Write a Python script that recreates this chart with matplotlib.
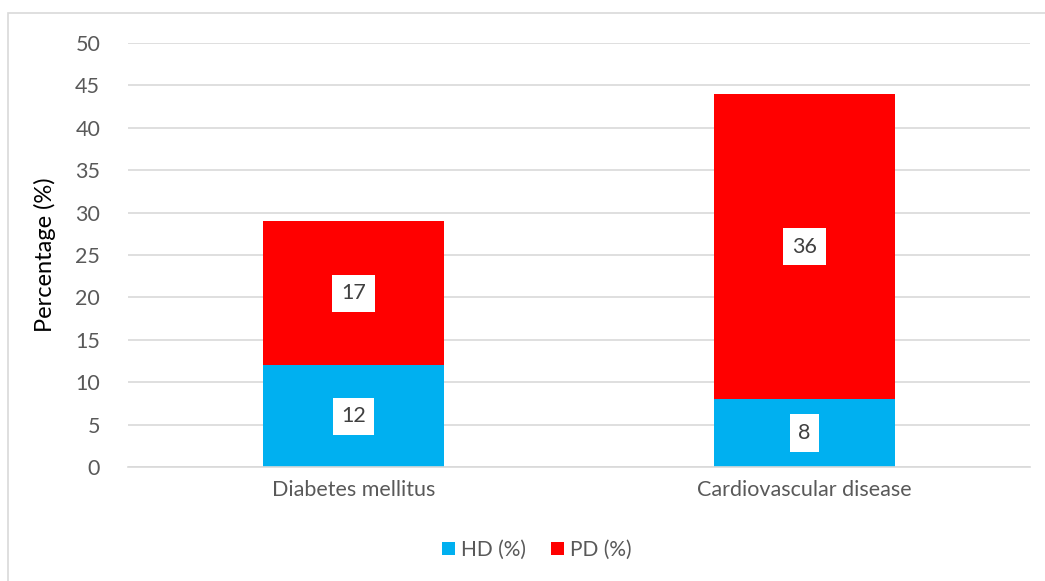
import matplotlib.pyplot as plt
import numpy as np
from matplotlib.patches import Rectangle

plt.rcParams['font.family'] = ['Lato', 'DejaVu Sans']

categories = ['Diabetes mellitus', 'Cardiovascular disease']
hd = [12, 8]
pd_vals = [17, 36]

x = np.arange(len(categories))
width = 0.4

fig = plt.figure(figsize=(10.45, 5.81), dpi=100)
# light frame round the chart area
fig.patches.append(Rectangle((8 / 1045, -0.1), 1.2, 1 - 13 / 581 + 0.1, transform=fig.transFigure,
                             fill=False, edgecolor='#D9D9D9', linewidth=1.2))
ax = fig.add_axes([128 / 1045, 1 - 467 / 581, 902 / 1045, 424 / 581])

b1 = ax.bar(x, hd, width, color='#00B0F0', label='HD (%)', zorder=2)
b2 = ax.bar(x, pd_vals, width, bottom=hd, color='#FF0000', label='PD (%)', zorder=2)

# value labels in white boxes, centred in each segment
for bars, vals, base in ((b1, hd, [0, 0]), (b2, pd_vals, hd)):
    for rect, v, b in zip(bars, vals, base):
        ax.text(rect.get_x() + rect.get_width() / 2, b + v / 2, str(v),
                ha='center', va='center', fontsize=15.5, color='#404040', zorder=3,
                bbox=dict(facecolor='white', edgecolor='none', boxstyle='square,pad=0.4'))

ax.set_xlim(-0.5, 1.5)
ax.set_ylim(0, 50)
ax.set_yticks(range(0, 51, 5))
ax.yaxis.grid(True, color='#D9D9D9', linewidth=1.2, zorder=0)
ax.set_axisbelow(True)
ax.set_xticks(x)
ax.set_xticklabels(categories)
ax.tick_params(axis='both', length=0, labelsize=15.5, labelcolor='#595959')
ax.tick_params(axis='y', pad=20)
ax.tick_params(axis='x', pad=9)
for s in ['top', 'right', 'left']:
    ax.spines[s].set_visible(False)
ax.spines['bottom'].set_color('#D9D9D9')
ax.spines['bottom'].set_linewidth(1.2)

ax.set_ylabel('Percentage (%)', fontsize=17, color='black', labelpad=14)

leg = fig.legend(handles=[b1, b2], loc='center', bbox_to_anchor=(537 / 1045, 1 - 550 / 581), ncol=2,
                 frameon=False, fontsize=15, handlelength=0.6, handleheight=0.6,
                 handletextpad=0.3, columnspacing=1.2)
for t in leg.get_texts():
    t.set_color('#595959')

fig.savefig('out.png', dpi=100)
